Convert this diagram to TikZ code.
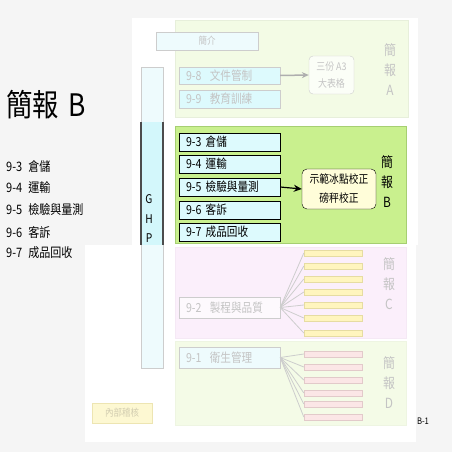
\documentclass[tikz,border=0pt]{standalone}
\usepackage{fontspec}
\setmainfont{Noto Sans CJK TC}[FakeStretch=0.85]
\usetikzlibrary{arrows.meta}
\definecolor{bggray}{HTML}{F5F5F5}
\definecolor{panA}{HTML}{F3FBE5}
\definecolor{panB}{HTML}{C9F08E}
\definecolor{panBline}{HTML}{A6CF72}
\definecolor{panC}{HTML}{FBEFFB}
\definecolor{panD}{HTML}{F4FBE7}
\definecolor{cyanB}{HTML}{DDFAFD}
\definecolor{cyanF}{HTML}{EEFBFD}
\definecolor{ghpB}{HTML}{D3F7FB}
\definecolor{fadetxt}{HTML}{C4C4C4}
\definecolor{fadeline}{HTML}{CDCDCD}
\definecolor{ybar}{HTML}{FFF5BE}
\definecolor{ybarline}{HTML}{E6DCA2}
\definecolor{pbar}{HTML}{FBE6E6}
\definecolor{pbarline}{HTML}{E2CACA}
\definecolor{audit}{HTML}{FDF8D2}
\definecolor{auditline}{HTML}{EDE5B2}
\definecolor{audittxt}{HTML}{D2CDB0}
\begin{document}
\begin{tikzpicture}[x=1pt,y=-1pt,
  itembox/.style={draw=black, fill=cyanB, minimum width=101pt, minimum height=18pt,
    inner xsep=7pt, inner ysep=0pt, text width=87pt, align=left,
    font=\fontsize{12.5}{14}\selectfont},
  fadebox/.style={itembox, draw=fadeline, text=fadetxt},
  vlabel/.style={align=center, font=\fontsize{14}{20}\selectfont},
  ybarbox/.style={draw=ybarline, fill=ybar, minimum width=58pt, minimum height=6pt, inner sep=0pt},
  pbarbox/.style={draw=pbarline, fill=pbar, minimum width=58pt, minimum height=6pt, inner sep=0pt},
  fan/.style={draw=fadeline, line width=0.8pt},
  listitem/.style={anchor=west, font=\fontsize{13}{15}\selectfont, inner sep=0pt}
]
\useasboundingbox (0,0) rectangle (452,452);
\fill[bggray] (0,0) rectangle (452,452);
\fill[white] (132,18) rectangle (418,245);
\fill[white] (85,245) rectangle (416,442);

% panels
\filldraw[fill=panA, draw=panA!90!gray] (175,20) rectangle (408,117);
\filldraw[fill=panB, draw=panBline] (175,126) rectangle (406,243);
\filldraw[fill=panC, draw=panC!95!gray] (175,247) rectangle (406,338);
\filldraw[fill=panD, draw=panD!95!gray] (175,341) rectangle (406,425);

% GHP bar
\filldraw[fill=cyanF, draw=fadeline] (141,67) rectangle (163,368);
\fill[ghpB] (141,122) rectangle (163,245);
\draw[line width=1.4pt, draw=black!70] (141,122) -- (141,245);
\draw[line width=1.4pt, draw=black!70] (163,122) -- (163,245);
\node[align=center, font=\fontsize{12}{19.5}\selectfont, inner sep=0pt] (ghp) at (149,219) {G\\H\\P};

% left list
\node[anchor=west, font=\fontsize{31}{34}\selectfont, inner sep=0pt] (title) at (6,105) {簡報\hspace{10pt}B};
\node[listitem] (l93) at (6,167) {9-3\hspace{6pt}倉儲};
\node[listitem] (l94) at (6,188) {9-4\hspace{6pt}運輸};
\node[listitem] (l95) at (6,210) {9-5\hspace{6pt}檢驗與量測};
\node[listitem] (l96) at (6,232) {9-6\hspace{6pt}客訴};
\node[listitem] (l97) at (6,253) {9-7\hspace{6pt}成品回收};

% panel A
\node[draw=fadeline, fill=cyanF, text=fadetxt, minimum width=102pt, minimum height=18pt, inner sep=0pt,
  font=\fontsize{10}{11}\selectfont] (intro) at (207,41) {簡介};
\node[fadebox, minimum height=17pt] (b98) at (229.5,75.5) {9-8\ \ 文件管制};
\node[fadebox] (b99) at (229.5,99) {9-9\ \ 教育訓練};
\node[draw=fadeline, fill=white!70!panA, rounded corners=4pt, text=fadetxt, align=center,
  minimum width=45pt, minimum height=38pt, inner sep=0pt, font=\fontsize{10.5}{17}\selectfont] (a3) at (331.5,75) {三份 A3\\大表格};
\draw[draw=fadeline!85!black, line width=1.5pt, -{Stealth[length=7pt,width=6pt]}] (b98.east) -- (a3.west);
\node[vlabel, text=fadetxt] (labA) at (390,70) {簡\\報\\A};

% panel B
\node[itembox] (b93) at (229.5,142) {9-3\ 倉儲};
\node[itembox] (b94) at (229.5,164) {9-4\ 運輸};
\node[itembox] (b95) at (229.5,187) {9-5\ 檢驗與量測};
\node[itembox] (b96) at (229.5,210) {9-6\ 客訴};
\node[itembox] (b97) at (229.5,232) {9-7\ 成品回收};
\node[draw=black, fill=white!85!yellow, rounded corners=5pt, align=center,
  minimum width=74pt, minimum height=40pt, inner sep=0pt, font=\fontsize{11.5}{19}\selectfont] (calib) at (339,189) {示範冰點校正\\磅秤校正};
\draw[line width=1.2pt, -{Stealth[length=8pt,width=7pt]}] (b95.east) -- (calib.west);
\node[vlabel] (labB) at (387,182) {簡\\報\\B};

% panel C
\node[fadebox, fill=white!60!panC, minimum height=21pt] (b92) at (229.5,307.5) {9-2\ \ 製程與品質};
\foreach \i/\yy in {1/253,2/266,3/279,4/292,5/305,6/318,7/333}{
  \node[ybarbox] (yb\i) at (333,\yy) {};
  \draw[fan] (b92.east) -- (yb\i.west);
}
\node[vlabel, text=fadetxt] (labC) at (389,284) {簡\\報\\C};

% panel D
\node[fadebox, fill=cyanF, minimum height=21pt] (b91) at (229.5,357.5) {9-1\ \ 衛生管理};
\foreach \i/\yy in {1/354,2/367,3/380,4/393,5/404,6/417}{
  \node[pbarbox] (pb\i) at (333,\yy) {};
  \draw[fan] (b91.east) -- (pb\i.west);
}
\node[vlabel, text=fadetxt] (labD) at (389,383) {簡\\報\\D};

% audit
\node[draw=auditline, fill=audit, text=audittxt, minimum width=60pt, minimum height=20pt, inner sep=0pt,
  font=\fontsize{10}{11}\selectfont] (audit) at (122,413) {內部稽核};
\node[font=\fontsize{9}{10}\selectfont, inner sep=0pt] (b1) at (423,421) {B-1};
\end{tikzpicture}
\end{document}
